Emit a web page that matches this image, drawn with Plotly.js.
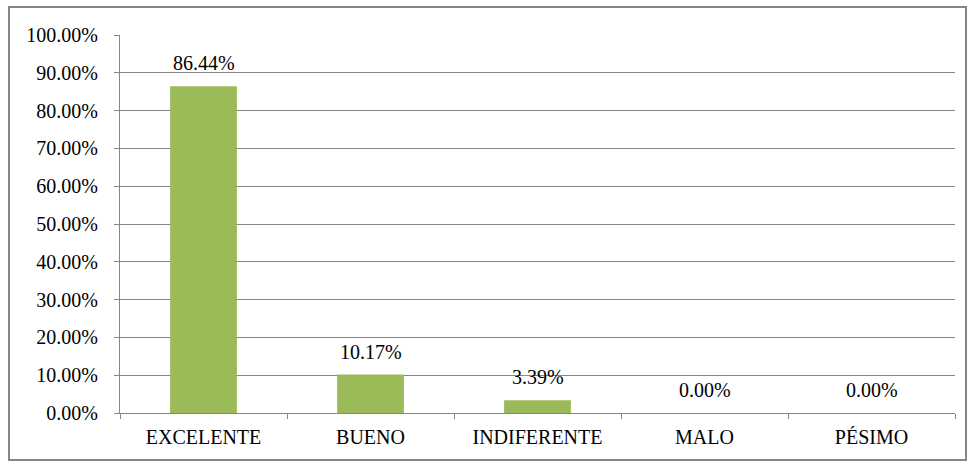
<!DOCTYPE html>
<html><head><meta charset="utf-8">
<script src="https://cdn.plot.ly/plotly-3.0.1.min.js"></script>
<style>
html,body{margin:0;padding:0;background:#fff;}
#wrap{position:relative;width:972px;height:464px;}
#chart{position:absolute;left:0;top:0;width:972px;height:464px;}
#frame{position:absolute;left:8px;top:6px;width:955px;height:451px;border:2px solid #868686;pointer-events:none;}
</style></head>
<body><div id="wrap"><div id="chart"></div><div id="frame"></div></div>
<script>
const categories = ["EXCELENTE","BUENO","INDIFERENTE","MALO","PÉSIMO"];
const values = [0.8644, 0.1017, 0.0339, 0.0, 0.0];
const labels = ["86.44%","10.17%","3.39%","0.00%","0.00%"];

const font = {family:"Times New Roman", size:20, color:"#000"};
const trace = {type:"bar", x:categories, y:values, width:0.4,
  marker:{color:"#9BBB59"}, hoverinfo:"none"};
const annotations = categories.map((c,i)=>({x:c, y:values[i], text:labels[i], showarrow:false,
  xref:"x", yref:"y", yanchor:"middle", yshift:23, font:font}));
const layout = {
  width:972, height:464, margin:{l:120,r:17,t:35,b:51},
  paper_bgcolor:"rgba(0,0,0,0)", plot_bgcolor:"#fff", showlegend:false, font:font,
  bargap:0.6,
  xaxis:{type:"category", showgrid:false, showline:true, linecolor:"#868686", linewidth:1,
    ticks:"outside", tickson:"boundaries", ticklen:5, tickcolor:"#868686", tickfont:font, zeroline:false,
    ticklabelstandoff:6},
  yaxis:{range:[0,1], dtick:0.1, tickformat:".2%", showgrid:true, gridcolor:"#868686", gridwidth:1,
    showline:true, linecolor:"#868686", linewidth:1, ticks:"outside", ticklen:5, tickcolor:"#868686",
    tickfont:font, zeroline:false, ticklabelstandoff:12},
  annotations:annotations
};
Plotly.newPlot("chart",[trace],layout,{staticPlot:true});
</script></body></html>
